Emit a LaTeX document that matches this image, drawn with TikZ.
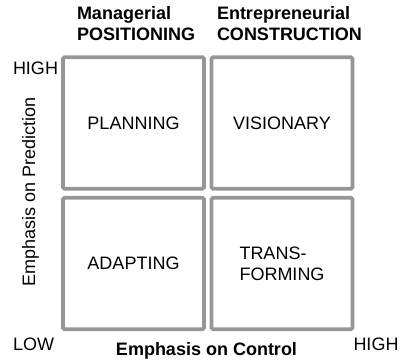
\documentclass[tikz,border=0pt]{standalone}
\usepackage{fontspec}
\setmainfont{Liberation Sans}
\begin{document}
\begin{tikzpicture}[x=1bp,y=-1bp,
  font=\fontsize{18bp}{21bp}\selectfont,
  quad/.style={draw={rgb,255:red,150;green,150;blue,150}, line width=3.6bp,
    rounded corners=1.5bp, minimum width=141bp, minimum height=131.5bp,
    inner sep=0pt, outer sep=0pt},
  axislabel/.style={inner sep=0pt, outer sep=0pt},
  heading/.style={inner sep=0pt, outer sep=0pt, font=\fontsize{18bp}{20.5bp}\selectfont\bfseries, align=left, anchor=base west}]
  \useasboundingbox (0,0) rectangle (405,360);

  % the four quadrants
  \node[quad] (plan) at (133.5,123) {PLANNING};
  \node[quad] (vision) at (282,123) {VISIONARY};
  \node[quad] (adapt) at (133.5,263.5) {ADAPTING};
  \node[quad, align=left] (transform) at (282,263.5) {TRANS-\\FORMING};

  % column headings (anchored on the baseline of the second line)
  \node[heading] (mp) at (77,40) {Managerial\\POSITIONING};
  \node[heading] (ec) at (217,40) {Entrepreneurial\\CONSTRUCTION};

  % axis ends
  \node[axislabel, anchor=base west] (yhigh) at (13,74) {HIGH};
  \node[axislabel, anchor=base west] (low) at (13,350) {LOW};
  \node[axislabel, anchor=base east] (xhigh) at (398.5,350) {HIGH};

  % axis titles
  \node[axislabel, anchor=base, font=\fontsize{18bp}{21bp}\selectfont\bfseries] (xaxis) at (206.5,355) {Emphasis on Control};
  \node[axislabel, anchor=base, rotate=90] (yaxis) at (35,191.5) {Emphasis on Prediction};
\end{tikzpicture}
\end{document}
